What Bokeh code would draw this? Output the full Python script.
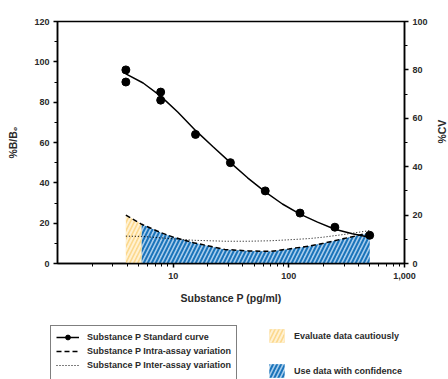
import math
from bokeh.plotting import figure
from bokeh.models import Range1d, LinearAxis, FixedTicker, Legend, LegendItem
from bokeh.layouts import column, row
from bokeh.core.properties import value
from bokeh.embed import file_html
from bokeh.resources import INLINE

# ---- data ----
conc = [3.9, 3.9, 7.8, 7.8, 15.6, 31.25, 62.5, 125, 250, 500]
bb0 = [96, 90, 85, 81, 64, 50, 36, 25, 18, 14]

fit_x = [3.9, 5.5, 7.8, 11, 15.6, 22, 31.25, 44, 62.5, 88, 125, 177, 250, 354, 500]
fit_y = [94, 89.5, 83, 75, 66, 58, 50, 42.5, 35.5, 29.5, 24.5, 20.5, 17, 14.8, 13]

cv_x = [3.9, 5.35, 7.8, 10, 15, 28, 45, 70, 100, 150, 200, 300, 500]
intra_cv = [20, 16.2, 12.8, 10.9, 8.6, 5.8, 5.2, 5.0, 6.0, 7.2, 8.4, 10.3, 12.7]
inter_cv = [11.3, 11.2, 10.6, 10.2, 9.6, 9.2, 9.2, 9.4, 9.8, 10.3, 10.9, 12.0, 13.6]

caution_n = 2  # first two CV points bound the "cautious" zone

x_ticks = [10, 100, 1000]
x_tick_labels = ["10", "100", "1,000"]
x_minor = [2, 3, 4, 5, 6, 7, 8, 9, 20, 30, 40, 50, 60, 70, 80, 90,
           200, 300, 400, 500, 600, 700, 800, 900]
y_ticks = [0, 20, 40, 60, 80, 100, 120]
y_minor = [10, 30, 50, 70, 90, 110]
cv_ticks = [0, 20, 40, 60, 80, 100]
cv_minor = [10, 30, 50, 70, 90]

x_title = "Substance P (pg/ml)"
y_title = "%B/B\u2080"
cv_title = "%CV"
legend_lines = ["Substance P Standard curve",
                "Substance P Intra-assay variation",
                "Substance P Inter-assay variation"]
legend_zones = ["Evaluate data cautiously", "Use data with confidence"]

FONT = "Liberation Sans"
BLUE_BG = "#a9cdec"
BLUE_HATCH = "#1b74ba"
YEL_BG = "#fcd88c"
YEL_HATCH = "#fff1d2"
TXT = "#2a2a2a"

caution_style = dict(fill_color=YEL_BG, hatch_pattern="/", hatch_color=YEL_HATCH,
                     hatch_scale=8, hatch_weight=2)
conf_style = dict(fill_color=BLUE_BG, hatch_pattern="/", hatch_color=BLUE_HATCH,
                  hatch_scale=8, hatch_weight=2)
fit_style = dict(line_color="black", line_width=1.5)
pt_style = dict(size=8, fill_color="black", line_color="black")
intra_style = dict(line_color="black", line_width=1.5, line_dash="5 3")
inter_style = dict(line_color="black", line_width=1, line_dash="1 2")

# ---------------- main chart ----------------
p = figure(width=430, height=312, x_axis_type="log",
           x_range=Range1d(1, 1000), y_range=Range1d(0, 120),
           output_backend="svg", toolbar_location=None,
           min_border_left=57, min_border_right=26,
           min_border_top=21, min_border_bottom=49)
p.extra_y_ranges = {"cv": Range1d(0, 100)}
p.xgrid.visible = False
p.ygrid.visible = False
p.outline_line_color = "black"
p.outline_line_width = 1.5

p.varea(x=cv_x[:caution_n], y1=[0] * caution_n, y2=intra_cv[:caution_n],
        y_range_name="cv", **caution_style)
p.varea(x=cv_x[caution_n - 1:], y1=[0] * (len(cv_x) - caution_n + 1),
        y2=intra_cv[caution_n - 1:], y_range_name="cv", **conf_style)
p.line(cv_x, intra_cv, y_range_name="cv", **intra_style)
p.line(cv_x, inter_cv, y_range_name="cv", **inter_style)
p.line(fit_x, fit_y, **fit_style)
p.scatter(conc, bb0, **pt_style)


def style_axis(ax):
    ax.axis_line_width = 1.5
    ax.major_tick_line_width = 1.5
    ax.minor_tick_line_width = 1
    ax.major_tick_out = 4
    ax.major_tick_in = 0
    ax.minor_tick_out = 3
    ax.minor_tick_in = 0
    ax.major_label_text_font = FONT
    ax.major_label_text_font_style = "bold"
    ax.major_label_text_font_size = "9px"
    ax.major_label_text_color = TXT
    ax.axis_label_text_font = FONT
    ax.axis_label_text_font_style = "bold"
    ax.axis_label_text_font_size = "10.5px"
    ax.axis_label_text_color = TXT
    ax.major_label_standoff = 4


xa = p.xaxis[0]
xa.ticker = FixedTicker(ticks=x_ticks, minor_ticks=x_minor)
xa.major_label_overrides = {t: l for t, l in zip(x_ticks, x_tick_labels)}
xa.axis_label = x_title
style_axis(xa)
xa.major_label_standoff = 5
xa.axis_label_standoff = 10

ya = p.yaxis[0]
ya.ticker = FixedTicker(ticks=y_ticks, minor_ticks=y_minor)
ya.axis_label = y_title
style_axis(ya)
ya.axis_label_standoff = 12

ra = LinearAxis(y_range_name="cv",
                ticker=FixedTicker(ticks=cv_ticks, minor_ticks=cv_minor))
style_axis(ra)
p.add_layout(ra, "right")

# ---------------- right axis title (reads bottom-to-top) ----------------
p3 = figure(width=18, height=312, x_range=Range1d(0, 18), y_range=Range1d(0, 312),
            output_backend="svg", toolbar_location=None,
            x_axis_location=None, y_axis_location=None, min_border=0)
p3.outline_line_color = None
p3.xgrid.visible = False
p3.ygrid.visible = False
p3.text(x=[11], y=[170], text=[cv_title], angle=math.pi / 2,
        text_font=value(FONT), text_font_style="bold", text_font_size="10.5px",
        text_color=TXT, text_align="center", text_baseline="middle")

# ---------------- legend strip ----------------
# proxy renderers reuse the chart data but sit outside this strip's ranges,
# so only their legend glyphs are visible
p2 = figure(width=448, height=67, x_range=Range1d(-2, -1), y_range=Range1d(-2, -1),
            output_backend="svg", toolbar_location=None,
            x_axis_location=None, y_axis_location=None, min_border=0)
p2.outline_line_color = None
p2.xgrid.visible = False
p2.ygrid.visible = False

d_fit = p2.line(fit_x, fit_y, **fit_style)
d_pt = p2.scatter(conc, bb0, **{**pt_style, "size": 7})
d_intra = p2.line(cv_x, intra_cv, **intra_style)
d_inter = p2.line(cv_x, inter_cv, **inter_style)
d_blank = p2.line(cv_x, inter_cv, line_alpha=0)
d_caution = p2.varea(x=cv_x[:caution_n], y1=[0] * caution_n,
                     y2=intra_cv[:caution_n], **caution_style)
d_conf = p2.varea(x=cv_x[caution_n - 1:], y1=[0] * (len(cv_x) - caution_n + 1),
                  y2=intra_cv[caution_n - 1:], **conf_style)

leg1 = Legend(items=[
    LegendItem(label=legend_lines[0], renderers=[d_fit, d_pt]),
    LegendItem(label=legend_lines[1], renderers=[d_intra]),
    LegendItem(label=legend_lines[2], renderers=[d_inter]),
    LegendItem(label=" ", renderers=[d_blank]),
], location=(50, -12), orientation="vertical",
    border_line_color="black", border_line_width=1.5,
    background_fill_color="white", background_fill_alpha=1,
    glyph_width=23, glyph_height=12, label_height=12, spacing=2,
    padding=5, margin=0, label_standoff=8,
    label_text_font=FONT, label_text_font_style="bold",
    label_text_font_size="9px", label_text_color=TXT)
p2.add_layout(leg1)

leg2 = Legend(items=[
    LegendItem(label=legend_zones[0], renderers=[d_caution]),
    LegendItem(label=legend_zones[1], renderers=[d_conf]),
], location=(267, 0), orientation="vertical",
    border_line_color=None, background_fill_alpha=0,
    glyph_width=19, glyph_height=17, label_height=17, spacing=18,
    padding=0, margin=0, label_standoff=8,
    label_text_font=FONT, label_text_font_style="bold",
    label_text_font_size="9px", label_text_color=TXT)
p2.add_layout(leg2)

layout = column(row(p, p3), p2)
open("out.html", "w").write(file_html(layout, INLINE))
